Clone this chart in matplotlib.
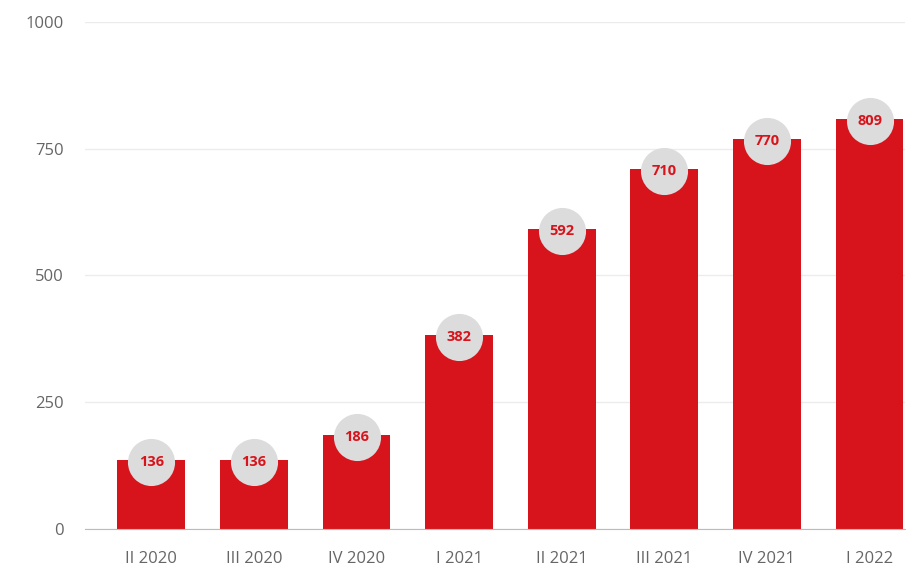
import matplotlib.pyplot as plt

quarters = ['II 2020', 'III 2020', 'IV 2020', 'I 2021', 'II 2021', 'III 2021', 'IV 2021', 'I 2022']
values = [136, 136, 186, 382, 592, 710, 770, 809]
yticks = [0, 250, 500, 750, 1000]

plt.rcParams['font.family'] = ['Open Sans', 'DejaVu Sans']

fig = plt.figure(figsize=(9.1, 5.68), dpi=100)
ax = fig.add_axes([0.093, 0.069, 0.902, 0.892])

x = list(range(len(values)))
ax.bar(x, values, width=0.66, color='#d7141c', zorder=2)
ax.scatter(x, [v - 4 for v in values], s=1150, color='#dcdcdc', zorder=3, linewidths=0)
for i, v in zip(x, values):
    ax.text(i, v - 4, str(v), ha='center', va='center', color='#d7141c',
            fontsize=10.5, fontweight='bold', zorder=4)

ax.set_xlim(-0.65, 7.35)
ax.set_ylim(0, 1000)
ax.set_yticks(yticks)
ax.set_xticks(x)
ax.set_xticklabels(quarters)
ax.tick_params(axis='both', length=0, colors='#666666', labelsize=12)
ax.tick_params(axis='x', pad=16)
ax.tick_params(axis='y', pad=15)
ax.grid(axis='y', color='#ececec', linewidth=1, zorder=0)
for s in ['top', 'right', 'left']:
    ax.spines[s].set_visible(False)
ax.spines['bottom'].set_color('#bbbbbb')
ax.set_axisbelow(True)

fig.savefig('out.png', dpi=100)
